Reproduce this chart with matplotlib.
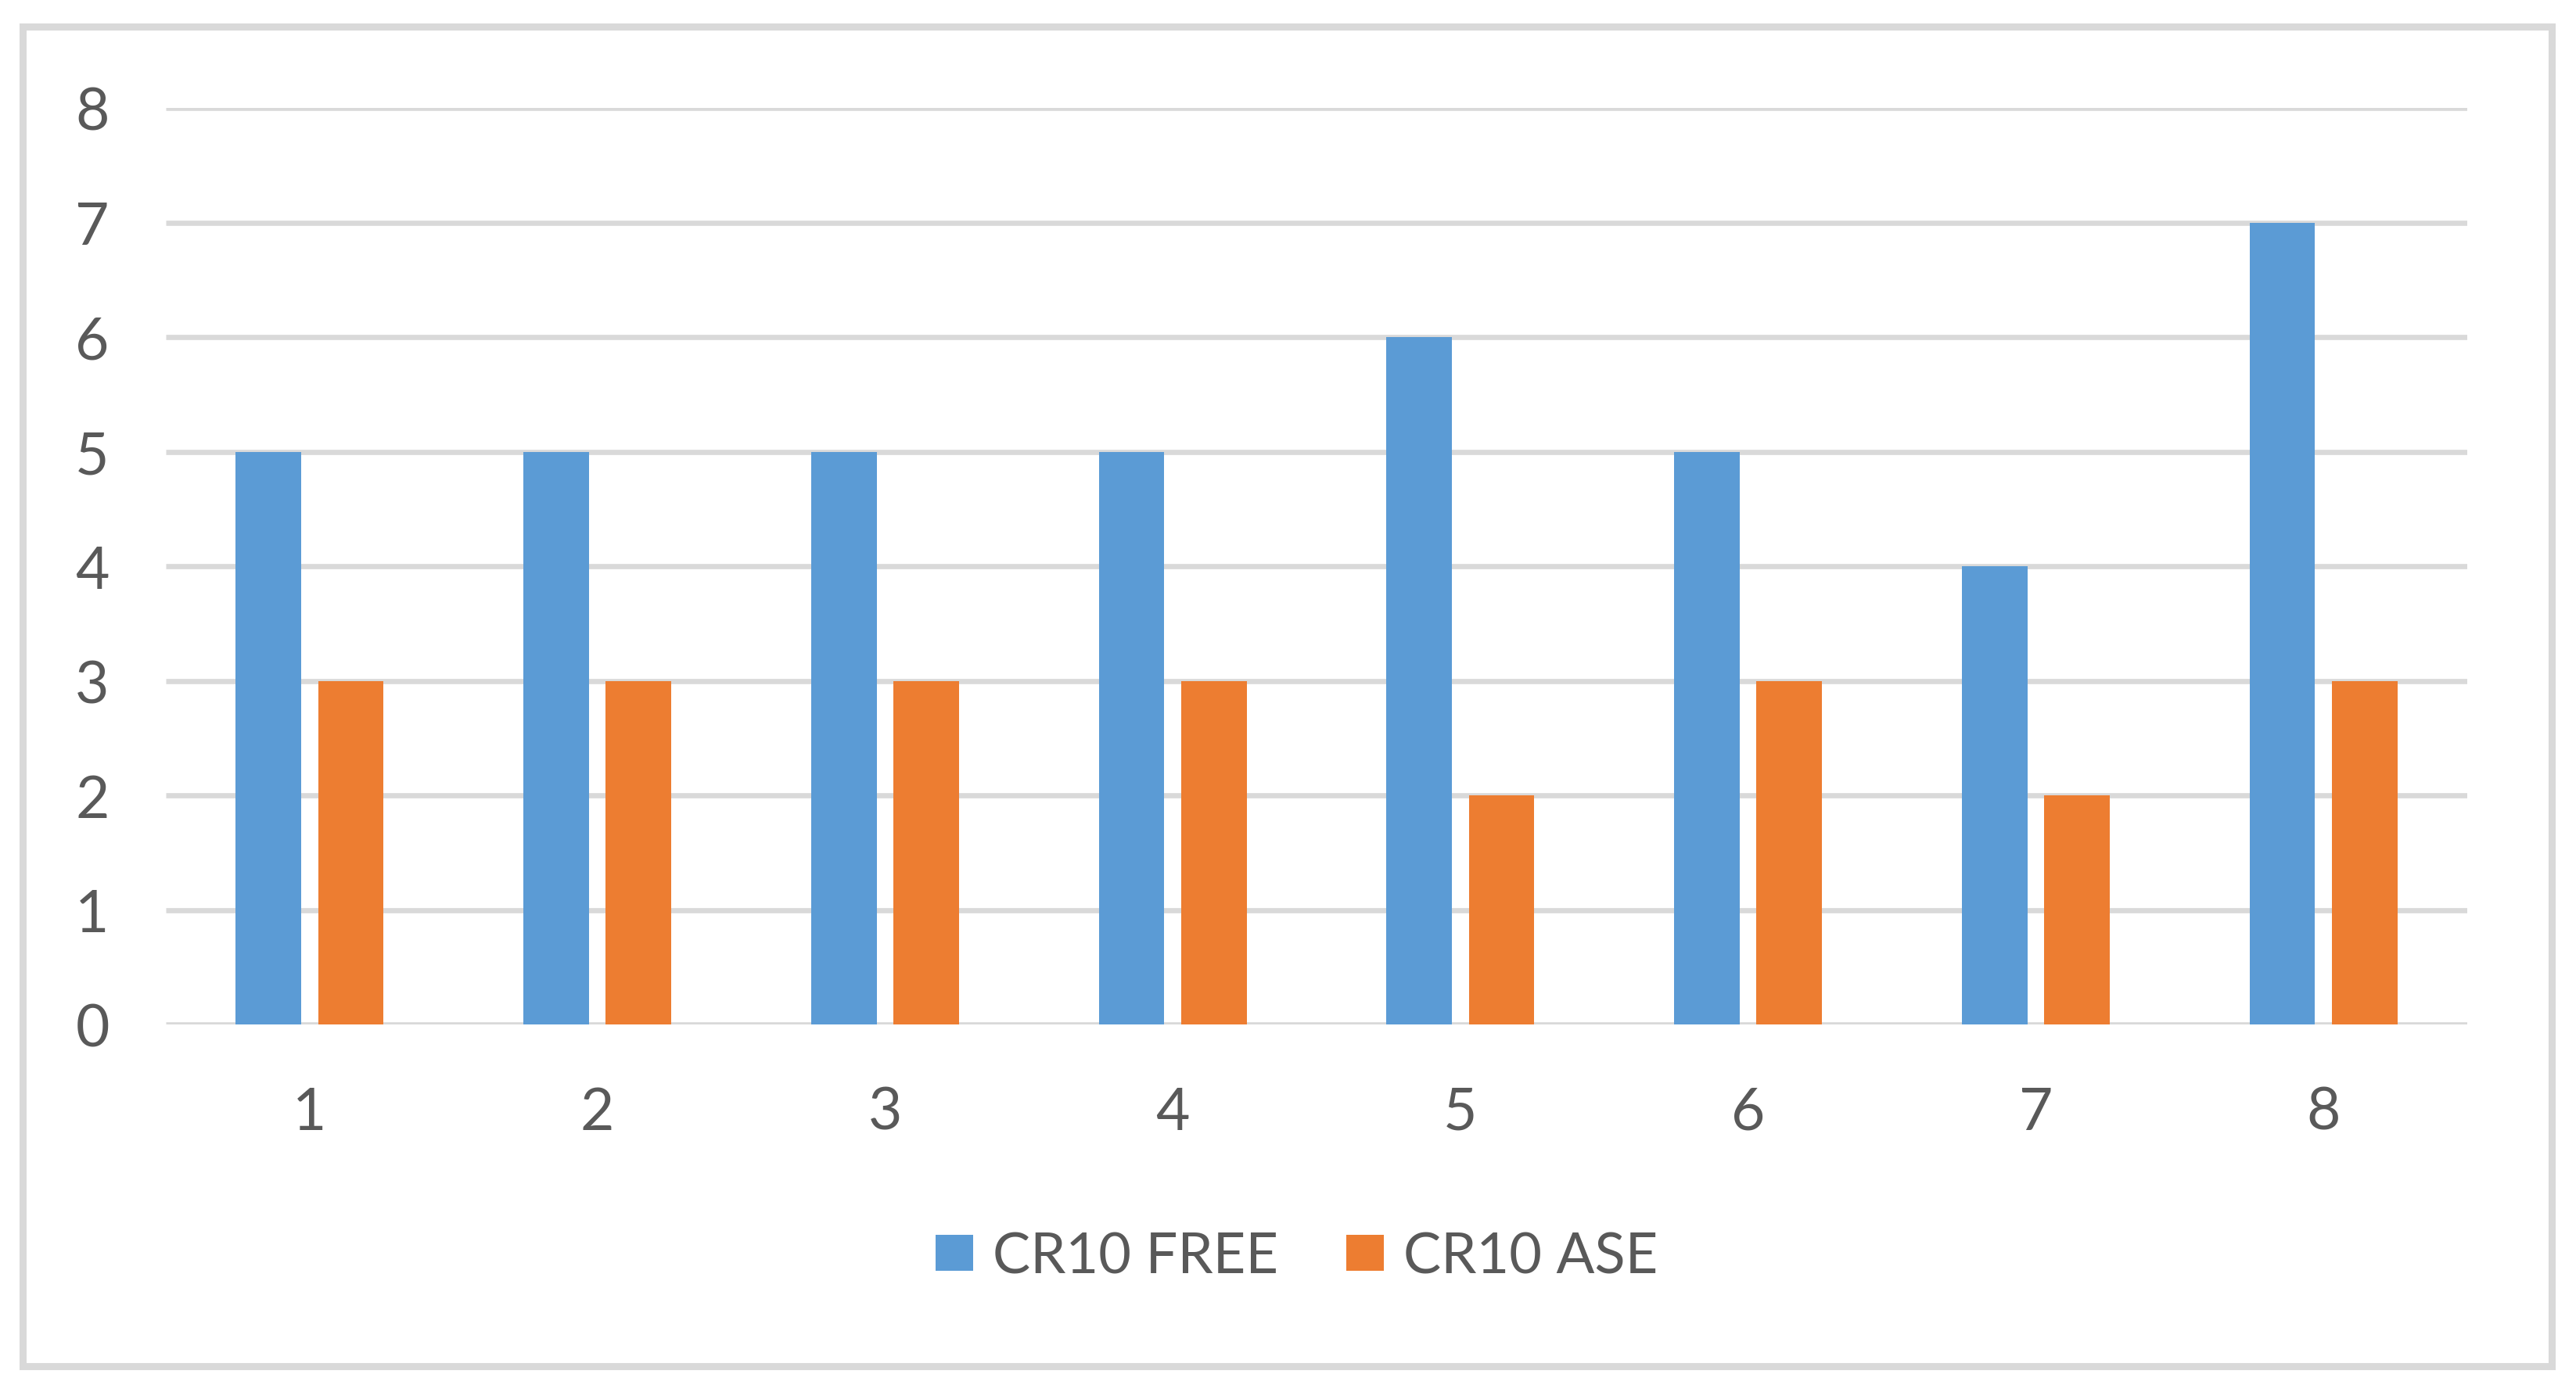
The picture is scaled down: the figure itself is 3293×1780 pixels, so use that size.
import matplotlib
matplotlib.use("Agg")
import matplotlib.pyplot as plt
from matplotlib.patches import Rectangle
import numpy as np

plt.rcParams['font.family'] = ['Lato', 'DejaVu Sans']

categories = ['1', '2', '3', '4', '5', '6', '7', '8']
cr10_free = [5, 5, 5, 5, 6, 5, 4, 7]
cr10_ase = [3, 3, 3, 3, 2, 3, 2, 3]
series_names = ['CR10 FREE', 'CR10 ASE']
yticks = [0, 1, 2, 3, 4, 5, 6, 7, 8]

blue = '#5B9BD5'
orange = '#ED7D31'
grid_col = '#D9D9D9'
text_col = '#595959'

W, H = 3293, 1781
fig = plt.figure(figsize=(W / 100, H / 100), dpi=100)
ax = fig.add_axes([212 / W, 470 / H, (3154 - 212) / W, (1311 - 139) / H])

x = np.arange(len(categories))
bw = 0.228
off = 0.143
ax.bar(x - off, cr10_free, bw, color=blue, label=series_names[0], zorder=3)
ax.bar(x + off, cr10_ase, bw, color=orange, label=series_names[1], zorder=3)

ax.set_xlim(-0.5, len(categories) - 0.5)
ax.set_ylim(0, 8)
ax.set_yticks(yticks)
ax.set_xticks(x)
ax.set_xticklabels(categories)

for y in yticks:
    ax.axhline(y, color=grid_col, lw=4.8, zorder=1, solid_capstyle='butt')

for s in ax.spines.values():
    s.set_visible(False)
ax.tick_params(axis='both', length=0, labelsize=54, labelcolor=text_col)
ax.tick_params(axis='y', pad=52)
ax.tick_params(axis='x', pad=56)

leg = fig.legend(loc='center', bbox_to_anchor=(1658 / W, 1 - 1608 / H), ncol=2,
                 frameon=False, fontsize=52, handlelength=0.66, handleheight=0.62,
                 handletextpad=0.35, columnspacing=1.2)
for t in leg.get_texts():
    t.set_color(text_col)

# outer chart frame
fig.patches.append(Rectangle((28.5 / W, 1 - 1748 / H), (3261.5 - 28.5) / W, (1748 - 34.5) / H,
                             transform=fig.transFigure, fill=False, edgecolor=grid_col, lw=6.5))

fig.savefig('out.png', dpi=100, facecolor='white')
